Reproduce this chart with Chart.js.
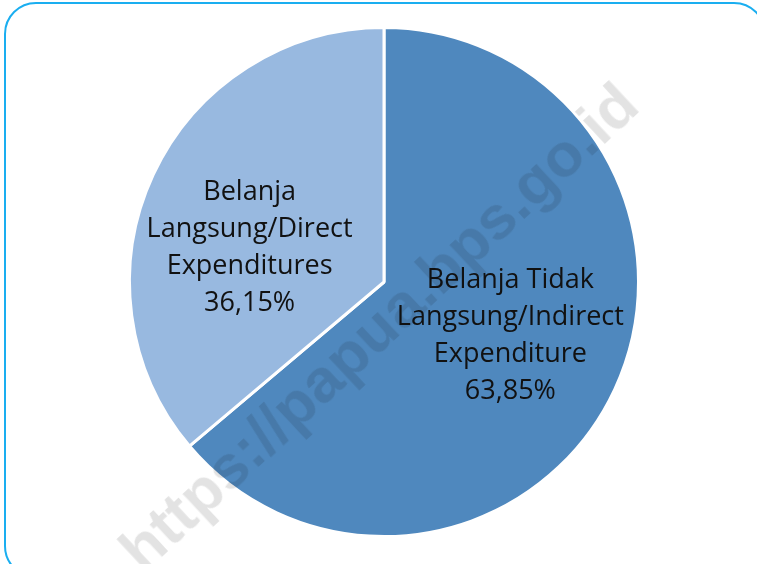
<!DOCTYPE html>
<html>
<head>
<meta charset="utf-8">
<script src="https://cdn.jsdelivr.net/npm/chart.js@4"></script>
<style>
  html, body { margin: 0; padding: 0; background: #fff; overflow: hidden; }
  #wrap { position: relative; width: 757px; height: 564px; overflow: hidden; }
  .frame {
    position: absolute; left: 4px; top: 2px; width: 762px; height: 576px;
    border: 2px solid #1aaef0; border-radius: 32px; box-sizing: border-box;
  }
  #chart { position: absolute; left: 0; top: 0; }
  .wm {
    position: absolute; left: 378px; top: 326px;
    transform: translate(-50%, -50%) rotate(-43deg);
    font: bold 62px "Liberation Sans", Arial, sans-serif;
    color: rgba(0, 0, 0, 0.11); white-space: nowrap; pointer-events: none;
  }
</style>
</head>
<body>
<div id="wrap">
  <div class="frame"></div>
  <canvas id="chart" width="757" height="564"></canvas>
  <div class="wm">https://papua.bps.go.id</div>
</div>
<script>
const labels = [
  ["Belanja Tidak", "Langsung/Indirect", "Expenditure"],
  ["Belanja", "Langsung/Direct", "Expenditures"]
];
const values = [63.85, 36.15];
const pctText = ["63,85%", "36,15%"];
const colors = ["#4f88be", "#98b9e0"];

// nudge labels off the arc midpoints
const labelShift = [{ dx: 11, dy: 0 }, { dx: -19, dy: 19 }];

const sliceLabels = {
  id: 'sliceLabels',
  afterDatasetsDraw(chart) {
    const ctx = chart.ctx;
    const arcs = chart.getDatasetMeta(0).data;
    ctx.save();
    ctx.font = '27px "Open Sans", sans-serif';
    ctx.fillStyle = '#111';
    ctx.textAlign = 'center';
    ctx.textBaseline = 'middle';
    const lh = 37;
    arcs.forEach((arc, i) => {
      const p = arc.tooltipPosition();
      const lines = labels[i].concat([pctText[i]]);
      const x = p.x + labelShift[i].dx;
      const y0 = p.y + labelShift[i].dy - lh * (lines.length - 1) / 2;
      lines.forEach((t, j) => ctx.fillText(t, x, y0 + j * lh));
    });
    ctx.restore();
  }
};

new Chart(document.getElementById('chart'), {
  type: 'pie',
  data: {
    labels: labels.map(l => l.join(' ')),
    datasets: [{
      data: values,
      backgroundColor: colors,
      borderColor: '#fff',
      borderWidth: 3
    }]
  },
  options: {
    responsive: false,
    animation: false,
    layout: { padding: { left: 128, right: 117, top: 26, bottom: 26 } },
    plugins: {
      legend: { display: false },
      tooltip: { enabled: false }
    }
  },
  plugins: [sliceLabels]
});
</script>
</body>
</html>
